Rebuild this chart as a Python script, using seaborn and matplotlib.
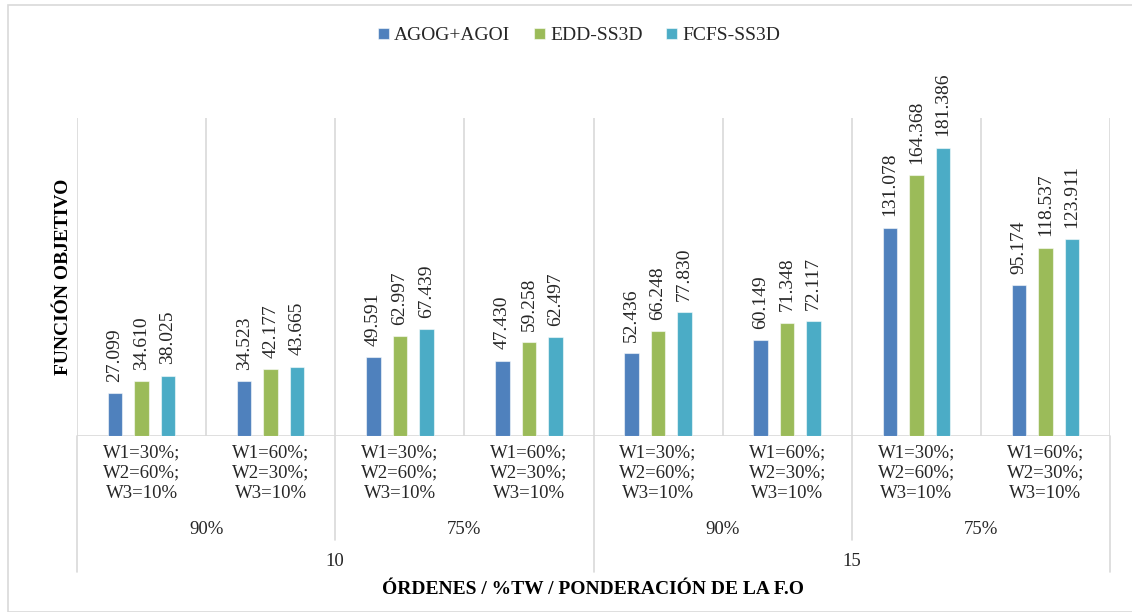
import matplotlib
matplotlib.use("Agg")
import matplotlib.pyplot as plt
import matplotlib.transforms as mtransforms
from matplotlib.patches import Rectangle
import seaborn as sns
import pandas as pd

# Scenario labels (weights), %TW levels and order counts
weights = [
    "W1=30%;\nW2=60%;\nW3=10%",
    "W1=60%;\nW2=30%;\nW3=10%",
] * 4
tw_levels = ["90%", "75%", "90%", "75%"]
orders = ["10", "15"]

series_names = ["AGOG+AGOI", "EDD-SS3D", "FCFS-SS3D"]
agog = [27.099, 34.523, 49.591, 47.430, 52.436, 60.149, 131.078, 95.174]
edd = [34.610, 42.177, 62.997, 59.258, 66.248, 71.348, 164.368, 118.537]
fcfs = [38.025, 43.665, 67.439, 62.497, 77.830, 72.117, 181.386, 123.911]

colors = ["#4F81BD", "#9BBB59", "#4BACC6"]

scen_ids = [f"s{i}" for i in range(len(agog))]
df = pd.DataFrame({
    "scenario": scen_ids * 3,
    "method": sum([[n] * len(agog) for n in series_names], []),
    "value": agog + edd + fcfs,
})

sns.set_theme(style="white")
plt.rcParams["font.family"] = ["Liberation Serif", "DejaVu Serif"]

W, H = 1132, 612
fig = plt.figure(figsize=(W / 100, H / 100), dpi=100)
left, right, top, base = 77, 1110, 118, 436
ax = fig.add_axes([left / W, (H - base) / H, (right - left) / W, (base - top) / H])

sns.barplot(data=df, x="scenario", y="value", hue="method", order=scen_ids,
            hue_order=series_names, palette=colors, width=0.615, gap=0.45,
            saturation=1, linewidth=0.8, edgecolor=(1, 1, 1, 0.55),
            errorbar=None, legend=True, ax=ax)

for cont in ax.containers:
    ax.bar_label(cont, fmt="%.3f", rotation=90, padding=8, fontsize=14,
                 color="#262626")

ax.set_ylim(0, 200)
ax.set_xlim(-0.5, len(agog) - 0.5)
ax.set_yticks([])
ax.set_ylabel("")
ax.set_xlabel("")
for s in ax.spines.values():
    s.set_visible(False)

grid_c = "#d9d9d9"
for i in range(len(agog) + 1):
    ax.axvline(i - 0.5, color=grid_c, lw=1.2, zorder=0)
ax.axhline(0, color=grid_c, lw=1.2, zorder=0.5)

# Category labels, first level
ax.set_xticks(range(len(agog)))
ax.set_xticklabels(weights, fontsize=13.5, linespacing=1.27, color="#262626")
ax.tick_params(axis="x", length=0, pad=6)

trans = mtransforms.blended_transform_factory(ax.transData, ax.transAxes)
ph = base - top

def ay(ypix):
    return (base - ypix) / ph

# Separators below the axis for the grouped levels
for x in [1.5, 5.5]:
    ax.plot([x, x], [0, ay(540)], color=grid_c, lw=1.2, transform=trans, clip_on=False)
for x in [-0.5, 3.5, 7.5]:
    ax.plot([x, x], [0, ay(572)], color=grid_c, lw=1.2, transform=trans, clip_on=False)

# Second level: %TW
for k, lab in enumerate(tw_levels):
    ax.text(2 * k + 0.5, ay(530), lab, transform=trans, ha="center", va="center",
            fontsize=13.5, color="#262626")
# Third level: number of orders
for k, lab in enumerate(orders):
    ax.text(4 * k + 1.5, ay(562), lab, transform=trans, ha="center", va="center",
            fontsize=13.5, color="#262626")

fig.text((left + right) / 2 / W, 1 - 590 / H, "ÓRDENES / %TW / PONDERACIÓN DE LA F.O",
         ha="center", va="center", fontsize=14, fontweight="bold", color="black")
fig.text(63 / W, 1 - 277 / H, "FUNCIÓN OBJETIVO", rotation=90, ha="center",
         va="center", fontsize=14, fontweight="bold", color="black")

leg = ax.legend(loc="center", bbox_to_anchor=(579 / W, 1 - 36 / H),
                bbox_transform=fig.transFigure, ncol=3, frameon=False,
                fontsize=14, handlelength=0.55, handleheight=0.55,
                handletextpad=0.28, columnspacing=1.2)
for t in leg.get_texts():
    t.set_color("#262626")

fig.patches.append(Rectangle((8 / W, 0), 1.2, 1 - 5 / H, transform=fig.transFigure,
                             fill=False, edgecolor=grid_c, lw=1.2))

fig.savefig("out.png", dpi=100)
